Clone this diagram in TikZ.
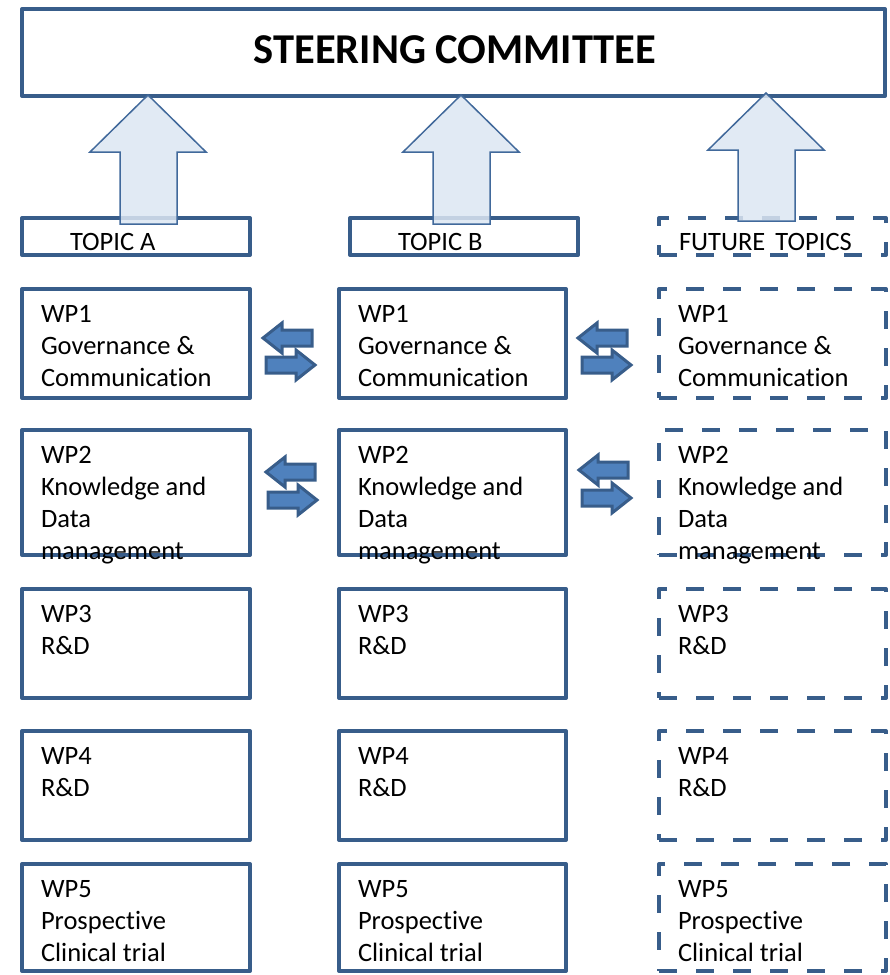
\documentclass[tikz,border=0pt]{standalone}
\usepackage{fontspec}
\setmainfont{Carlito}[Ligatures=NoCommon]
\definecolor{boxblue}{RGB}{56,93,138}
\definecolor{smallfill}{RGB}{79,129,189}
\definecolor{arrowfill}{RGB}{220,230,242}
\definecolor{arrowline}{RGB}{65,105,155}
\newcommand\wpb[7]{% name, style, x, y, w, h, text
  \node[#2, minimum width=#5pt, minimum height=#6pt] (#1) at (#3,#4) {};
  \node[wptext] (#1t) at ({#3+19},{#4+10.6}) {\strut #7};
}
\newcommand\bigup[5]{% tip x, tip y, head base y, bottom y, name
  \draw[bigarrow] (#1,#2) coordinate (#5) -- ({#1+58},#3) -- ({#1+29},#3) -- ({#1+29},#4)
     -- ({#1-28},#4) -- ({#1-28},#3) -- ({#1-58},#3) -- cycle;
}
\newcommand\larr[2]{% tip x, centre y
  \draw[smallarrow] (#1,#2) -- ({#1+19},{#2-15}) -- ({#1+19},{#2-8}) -- ({#1+49},{#2-8})
     -- ({#1+49},{#2+8}) -- ({#1+19},{#2+8}) -- ({#1+19},{#2+15}) -- cycle;
}
\newcommand\rarr[2]{% tip x, centre y
  \draw[smallarrow] (#1,#2) -- ({#1-19},{#2-15}) -- ({#1-19},{#2-8}) -- ({#1-49},{#2-8})
     -- ({#1-49},{#2+8}) -- ({#1-19},{#2+8}) -- ({#1-19},{#2+15}) -- cycle;
}
\begin{document}
\begin{tikzpicture}[x=1pt,y=-1pt,
  every node/.style={inner sep=0pt, outer sep=0pt},
  box/.style={draw=boxblue, line width=4pt, line join=round, rectangle, anchor=north west},
  dbox/.style={box, dash pattern=on 18pt off 19pt},
  wptext/.style={anchor=north west, align=left, font=\fontsize{26.5}{32}\selectfont, text=black},
  toptext/.style={anchor=base west, font=\fontsize{26.5}{32}\selectfont, text=black},
  bigarrow/.style={draw=arrowline, line width=1.5pt, fill=arrowfill, fill opacity=0.85, line join=miter},
  smallarrow/.style={draw=boxblue, line width=3pt, fill=smallfill, line join=miter}]
\useasboundingbox (0,0) rectangle (890,975);

% steering committee
\node[box, minimum width=863pt, minimum height=87pt] (sc) at (22,9) {};
\node[anchor=base, font=\bfseries\fontsize{42.5}{48}\selectfont] (sct) at (455,63) {STEERING COMMITTEE};

% topic boxes
\node[box, minimum width=228pt, minimum height=37pt] (ta) at (22,218) {};
\node[box, minimum width=228pt, minimum height=37pt] (tb) at (350,218) {};
\node[dbox, minimum width=227pt, minimum height=37pt] (tc) at (659,218) {};
\node[toptext] (tat) at (70,250) {TOPIC A};
\node[toptext] (tbt) at (398,250) {TOPIC B};
\node[toptext] (tct) at (679,250) {FUTURE\hspace{10pt}TOPICS};

% work packages
\wpb{a1}{box}{22}{289}{228}{109}{WP1\\Governance \&\\Communication}
\wpb{b1}{box}{339}{289}{227}{109}{WP1\\Governance \&\\Communication}
\wpb{c1}{dbox}{659}{289}{227}{109}{WP1\\Governance \&\\Communication}
\wpb{a2}{box}{22}{430}{228}{125}{WP2\\Knowledge and\\Data\\management}
\wpb{b2}{box}{339}{430}{227}{125}{WP2\\Knowledge and\\Data\\management}
\wpb{c2}{dbox}{659}{430}{227}{125}{WP2\\Knowledge and\\Data\\management}
\wpb{a3}{box}{22}{589}{228}{109}{WP3\\R\&D}
\wpb{b3}{box}{339}{589}{227}{109}{WP3\\R\&D}
\wpb{c3}{dbox}{659}{589}{227}{109}{WP3\\R\&D}
\wpb{a4}{box}{22}{731}{228}{109}{WP4\\R\&D}
\wpb{b4}{box}{339}{731}{227}{109}{WP4\\R\&D}
\wpb{c4}{dbox}{659}{731}{227}{109}{WP4\\R\&D}
\wpb{a5}{box}{22}{864}{228}{107}{WP5\\Prospective\\Clinical trial}
\wpb{b5}{box}{339}{864}{227}{107}{WP5\\Prospective\\Clinical trial}
\wpb{c5}{dbox}{659}{864}{227}{107}{WP5\\Prospective\\Clinical trial}

% big up arrows
\bigup{148}{95}{152}{224}{upa}
\bigup{461}{95}{152}{224}{upb}
\bigup{766}{93}{150}{221}{upc}

% small exchange arrows
\larr{263}{338}
\rarr{315}{365}
\larr{266}{472}
\rarr{317}{500}
\larr{578}{338}
\rarr{631}{365}
\larr{579}{470}
\rarr{631}{498}
\end{tikzpicture}
\end{document}
